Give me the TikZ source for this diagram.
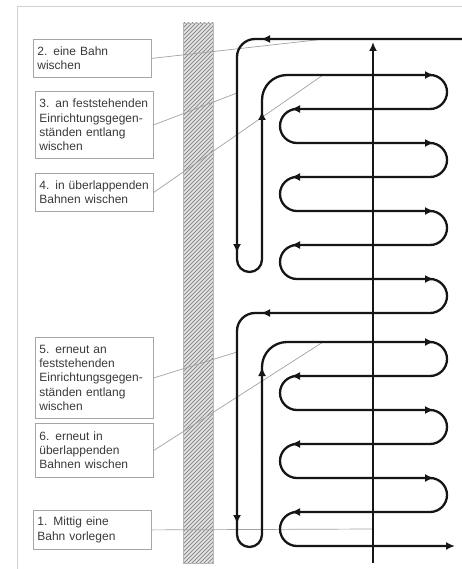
\documentclass[tikz,border=0pt]{standalone}
\usepackage{fontspec}
\setmainfont{Liberation Sans}
\usetikzlibrary{arrows.meta}
\definecolor{ink}{HTML}{161616}
\definecolor{framegray}{HTML}{D2D2D2}
\definecolor{boxline}{HTML}{A6A6A6}
\definecolor{note}{HTML}{3A3A3A}
\definecolor{hatch}{HTML}{8E8E8E}
\definecolor{wallfill}{HTML}{E4E4E4}
\definecolor{leadgray}{HTML}{A2A2A2}

\begin{document}
\begin{tikzpicture}[
  x=1pt, y=-1pt,
  callout/.style={draw=boxline, line width=0.8pt, fill=white, text=note, font=\fontsize{12}{14.3}\selectfont, align=left, text width=110pt, inner sep=4pt, anchor=north west},
  lead/.style={draw=leadgray, line width=0.7pt},
  track/.style={draw=ink, line width=2.3pt},
  tip/.style={track, -{Latex[length=9pt,width=8pt]}},
]
\useasboundingbox (0,0) rectangle (462,569);
\fill[white] (0,0) rectangle (462,569);
\draw[framegray, line width=1pt] (17,569) -- (17,7) -- (462,7);
\begin{scope}
  \clip (183,23) rectangle (213,563);
  \fill[wallfill] (183,23) rectangle (213,563);
  \foreach \i in {23,27,...,610} \draw[hatch, line width=0.9pt] (176,\i) -- (220,\i-44);
\end{scope}
\draw[wallfill!80!black, line width=0.5pt] (183,23) rectangle (213,563);

\node[callout, minimum height=38pt] (b2) at (33,39) {2. eine Bahn\\wischen};
\node[callout, minimum height=67pt] (b3) at (35,91) {3. an feststehenden\\Einrichtungsgegen-\\ständen entlang\\wischen};
\node[callout, minimum height=38pt] (b4) at (35,173) {4. in überlappenden\\Bahnen wischen};
\node[callout, minimum height=81pt] (b5) at (35,337) {5. erneut an\\feststehenden\\Einrichtungsgegen-\\ständen entlang\\wischen};
\node[callout, minimum height=54pt] (b6) at (35,423) {6. erneut in\\überlappenden\\Bahnen wischen};
\node[callout, minimum height=39pt] (b1) at (33,510) {1. Mittig eine\\Bahn vorlegen};

\coordinate (p2) at (325,39);
\coordinate (p3) at (237,93);
\coordinate (p4) at (323,75);
\coordinate (p5) at (237,352);
\coordinate (p6) at (323,342);
\coordinate (p1) at (373,529);
\draw[lead] (b2.east) -- (p2);
\draw[lead] (b3.east) -- (p3);
\draw[lead] (b4.east) -- (p4);
\draw[lead] (b5.east) -- (p5);
\draw[lead] (b6.east) -- (p6);
\draw[lead] (b1.east) -- (p1);

\draw[track, rounded corners=18pt] (462,39) -- (237,39) -- (237,200);
\draw[track, rounded corners=12.5pt] (237,200) -- (237,272) -- (262,272) -- (262,200);
\draw[track, rounded corners=25pt] (262,200) -- (262,75) -- (340,75);
\draw[track, rounded corners=17pt] (340,75) \foreach \y in {75,143,211} { -- (447,\y) -- (447,\y+34) -- (280,\y+34) -- (280,\y+68) } -- (447,279) -- (447,313) -- (340,313);
\draw[track, rounded corners=18pt] (340,313) -- (237,313) -- (237,450);
\draw[track, rounded corners=12.5pt] (237,450) -- (237,547) -- (262,547) -- (262,450);
\draw[track, rounded corners=25pt] (262,450) -- (262,342) -- (340,342);
\draw[tip, rounded corners=17pt] (340,342) \foreach \y in {342,410,478} { -- (447,\y) -- (447,\y+34) -- (280,\y+34) -- (280,\y+68) } -- (455,546);

\foreach \y in {75,143,211,279,342,410,478} \draw[tip] (424,\y) -- (434,\y);
\foreach \y in {109,177,245,376,444,512} \draw[tip] (301,\y) -- (291,\y);
\draw[tip] (272,39) -- (261,39);
\draw[tip] (272,313) -- (261,313);
\draw[tip] (237,242) -- (237,253);
\draw[tip] (237,513) -- (237,524);
\draw[tip] (262,122) -- (262,111);
\draw[tip] (262,378) -- (262,367);
\draw[tip, line width=1.9pt] (373,563) -- (373,42);
\end{tikzpicture}
\end{document}
